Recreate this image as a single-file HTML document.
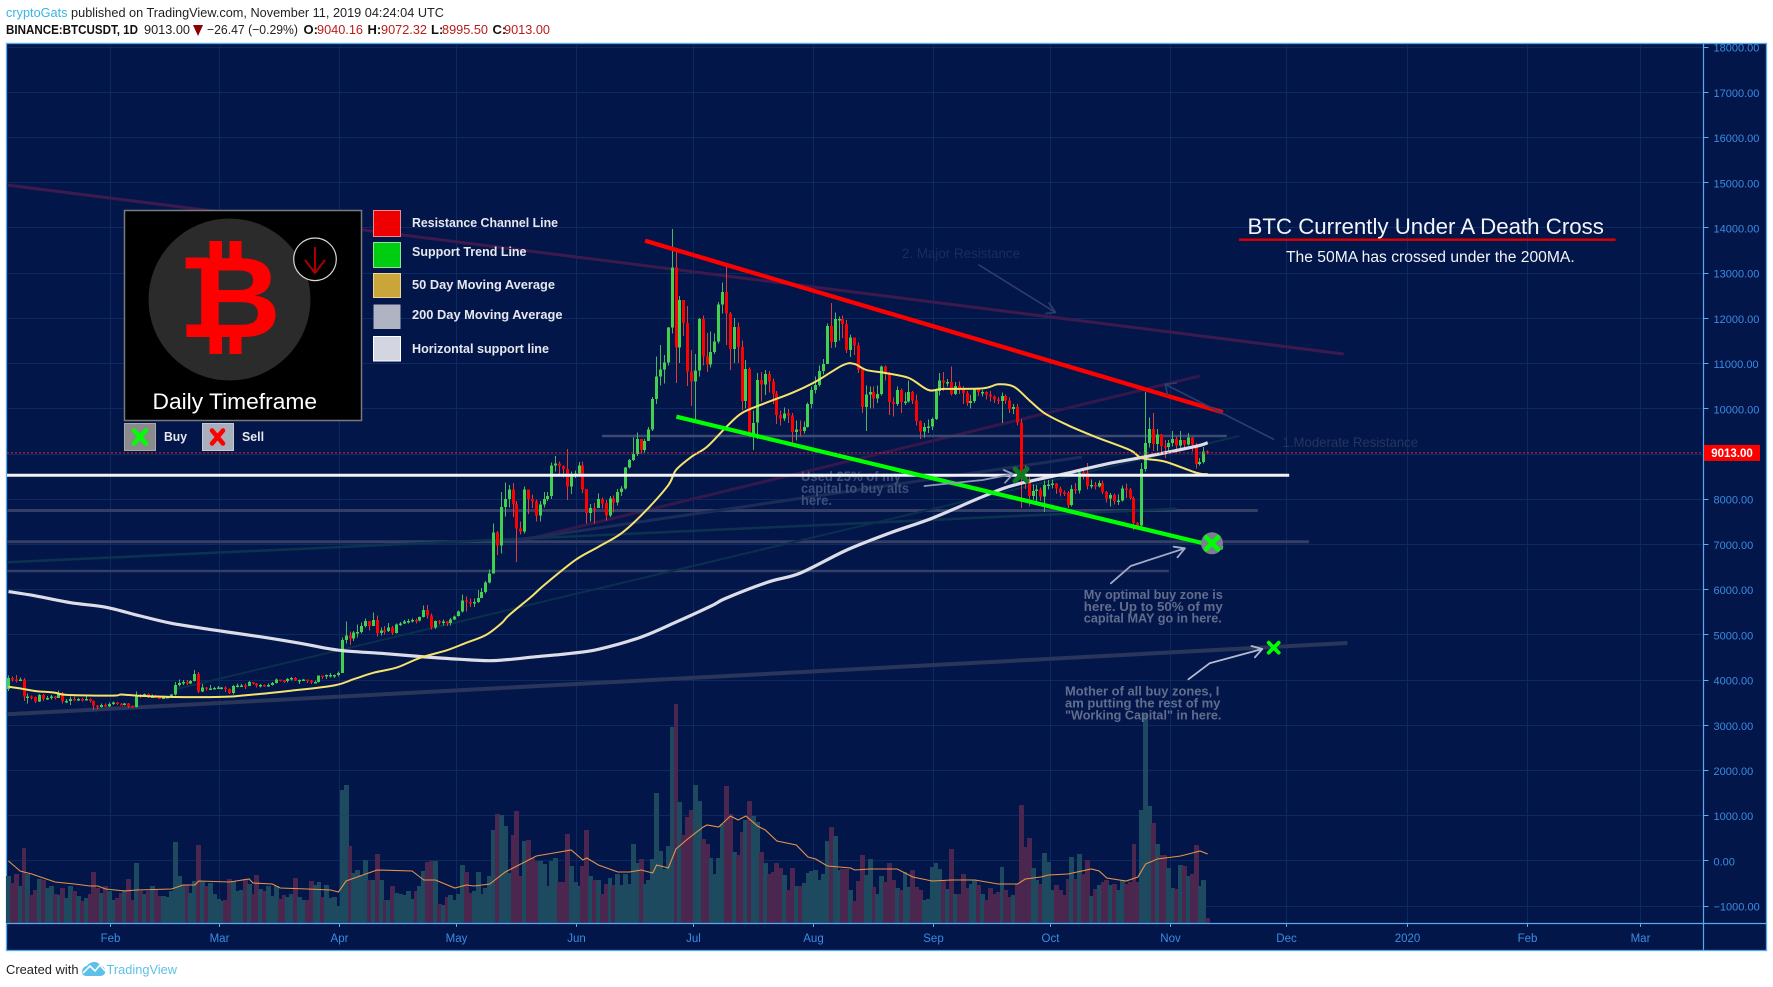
<!DOCTYPE html>
<html lang="en">
<head>
<meta charset="utf-8">
<title>BTCUSDT 1D chart</title>
<style>
html,body{margin:0;padding:0;background:#fff;width:1773px;height:987px;overflow:hidden}
svg{display:block;font-family:"Liberation Sans",sans-serif}
</style>
</head>
<body>
<svg id="chart" xmlns="http://www.w3.org/2000/svg" width="1773" height="987" viewBox="0 0 1773 987">
  <rect x="0" y="0" width="1773" height="987" fill="#ffffff"/>
  <g font-size="13">
    <text x="6" y="17" fill="#222" textLength="438" lengthAdjust="spacingAndGlyphs"><tspan fill="#3bb3e4">cryptoGats</tspan> published on TradingView.com, November 11, 2019 04:24:04 UTC</text>
    <text x="6" y="34" font-weight="700" fill="#111" textLength="132" lengthAdjust="spacingAndGlyphs">BINANCE:BTCUSDT, 1D</text>
    <text x="144" y="34" fill="#222" textLength="46" lengthAdjust="spacingAndGlyphs">9013.00</text>
    <path d="M193,25h10l-5,11z" fill="#8b0000"/>
    <text x="207" y="34" fill="#222" textLength="91" lengthAdjust="spacingAndGlyphs">−26.47 (−0.29%)</text>
    <text x="303.5" y="34" font-weight="700" fill="#111">O:</text>
    <text x="317" y="34" fill="#b71c1c" textLength="46" lengthAdjust="spacingAndGlyphs">9040.16</text>
    <text x="367.5" y="34" font-weight="700" fill="#111">H:</text>
    <text x="381" y="34" fill="#b71c1c" textLength="46" lengthAdjust="spacingAndGlyphs">9072.32</text>
    <text x="431" y="34" font-weight="700" fill="#111">L:</text>
    <text x="442" y="34" fill="#b71c1c" textLength="46" lengthAdjust="spacingAndGlyphs">8995.50</text>
    <text x="492.5" y="34" font-weight="700" fill="#111">C:</text>
    <text x="504" y="34" fill="#b71c1c" textLength="46" lengthAdjust="spacingAndGlyphs">9013.00</text>
  </g>
  <rect x="6.5" y="43.5" width="1760" height="907" fill="#031649" stroke="#55aaf2" stroke-width="1.3"/>
  <g id="grid"></g>
  <g id="volumeLayer"></g>
  <g id="dimLines"></g>
  <g id="candleLayer"></g>
  <g id="maLayer"></g>
  <g id="lastLine"></g>
  <g font-size="14">
    <text x="801" y="481" fill="#3f4f78" font-weight="700" textLength="100" lengthAdjust="spacingAndGlyphs">Used 25% of my</text>
    <text x="801" y="493" fill="#3f4f78" font-weight="700" textLength="108" lengthAdjust="spacingAndGlyphs">capital to buy alts</text>
    <text x="801" y="505" fill="#3f4f78" font-weight="700" textLength="31" lengthAdjust="spacingAndGlyphs">here.</text>
    <text x="902" y="258" fill="#1d2c5c" textLength="118" lengthAdjust="spacingAndGlyphs">2. Major Resistance</text>
    <text x="1282.5" y="447" fill="#26355f" textLength="135.6" lengthAdjust="spacingAndGlyphs">1.Moderate Resistance</text>
  </g>
  <g id="strongLines"></g>
  <g fill="none" stroke-linecap="round" stroke-linejoin="round">
    <path d="M979,265L1055.5,312.5M1049,303L1055.5,312.5L1046,313.5" stroke="#2f3d6e" stroke-width="1.6"/>
    <path d="M1273.7,439.3L1165.2,384.3M1176.5,383L1165.2,384.3L1167.7,395" stroke="#2f3d6e" stroke-width="1.6"/>
    <path d="M924.5,486L982.7,480L1013,474M1003.7,470L1013,474L1005,482.7" stroke="#8f98b8" stroke-width="1.8"/>
    <path d="M1110.9,583.3L1130.7,566L1184.9,548.3M1173.6,546.7L1184.9,548.3L1177.5,557.3" stroke="#a4abc6" stroke-width="1.8"/>
    <path d="M1188.4,679.3L1209.6,663.3L1262.3,649M1251.5,646L1262.3,649L1254.9,657.3" stroke="#b4bad0" stroke-width="1.8"/>
  </g>
  <g id="markerLayer"></g>
  <g font-size="13" font-weight="700" fill="#626d8e">
    <text x="1083.8" y="599" textLength="139" lengthAdjust="spacingAndGlyphs">My optimal buy zone is</text>
    <text x="1083.8" y="611" textLength="139" lengthAdjust="spacingAndGlyphs">here. Up to 50% of my</text>
    <text x="1083.8" y="622.5" textLength="138" lengthAdjust="spacingAndGlyphs">capital MAY go in here.</text>
    <text x="1065" y="695.5" textLength="154.4" lengthAdjust="spacingAndGlyphs">Mother of all buy zones, I</text>
    <text x="1065" y="707.5" textLength="155.4" lengthAdjust="spacingAndGlyphs">am putting the rest of my</text>
    <text x="1065" y="719.5" textLength="156.4" lengthAdjust="spacingAndGlyphs">"Working Capital" in here.</text>
  </g>
  <g>
    <rect x="124.5" y="210.5" width="237" height="210" fill="#000" stroke="#7a7a7a" stroke-width="1.5"/>
    <circle cx="229.5" cy="299.5" r="81" fill="#2b2b2b"/>
    <rect x="209.5" y="241" width="12.5" height="24" fill="#ff0000"/>
    <rect x="229.5" y="241" width="12" height="24" fill="#ff0000"/>
    <rect x="209.5" y="332" width="12.5" height="22" fill="#ff0000"/>
    <rect x="229.5" y="332" width="12" height="22" fill="#ff0000"/>
    <rect x="185.6" y="257.5" width="22" height="11" fill="#ff0000"/>
    <rect x="186.4" y="324.5" width="22" height="12.5" fill="#ff0000"/>
    <text transform="translate(193,337) scale(1.07,1)" font-size="114" font-weight="700" fill="#ff0000">B</text>
    <circle cx="315" cy="259.3" r="21.3" fill="#000" stroke="#d8d8d8" stroke-width="1.2"/>
    <path d="M315,247V273M305,260L315,273L325,260" fill="none" stroke="#a80000" stroke-width="2"/>
    <text x="152.5" y="409" font-size="22" fill="#fff" textLength="164.5" lengthAdjust="spacingAndGlyphs">Daily Timeframe</text>
  </g>
  <g font-size="13" font-weight="700" fill="#e6e8f0">
    <rect x="373.5" y="210.5" width="27" height="26" fill="#ee0000" stroke="#f08a8a"/>
    <text x="412" y="227" textLength="146" lengthAdjust="spacingAndGlyphs">Resistance Channel Line</text>
    <rect x="373.5" y="242.5" width="27" height="25" fill="#00cc11" stroke="#8fe39a"/>
    <text x="412" y="256" textLength="114.5" lengthAdjust="spacingAndGlyphs">Support Trend Line</text>
    <rect x="373.5" y="273.5" width="27" height="24" fill="#c9a53a" stroke="#ecd796"/>
    <text x="412" y="289" textLength="143" lengthAdjust="spacingAndGlyphs">50 Day Moving Average</text>
    <rect x="373.5" y="304.5" width="27" height="24.5" fill="#b0b3c2"/>
    <text x="412" y="319" textLength="150.5" lengthAdjust="spacingAndGlyphs">200 Day Moving Average</text>
    <rect x="373.5" y="336.5" width="27" height="24.5" fill="#d3d5e0" stroke="#fff"/>
    <text x="412" y="353" textLength="137" lengthAdjust="spacingAndGlyphs">Horizontal support line</text>
    <rect x="124.5" y="423.5" width="31" height="27" fill="#8a8a8a" stroke="#a8a8a8"/>
    <path d="M134,430.5L146,443.5M146,430.5L134,443.5" stroke="#00ff00" stroke-width="4.5" stroke-linecap="round"/>
    <text x="164" y="441" textLength="23" lengthAdjust="spacingAndGlyphs">Buy</text>
    <rect x="202.5" y="423.5" width="31" height="27" fill="#a9aebb" stroke="#c6cad4"/>
    <path d="M212,430.5L223,443.5M223,430.5L212,443.5" stroke="#ff0000" stroke-width="4.5" stroke-linecap="round"/>
    <text x="242" y="441" textLength="22" lengthAdjust="spacingAndGlyphs">Sell</text>
  </g>
  <g fill="#f2f4fa">
    <text x="1247.5" y="234" font-size="22" textLength="356.4" lengthAdjust="spacingAndGlyphs">BTC Currently Under A Death Cross</text>
    <rect x="1239" y="238.5" width="376.6" height="2.4" fill="#e00000"/>
    <text x="1286" y="262" font-size="15.5" textLength="288.7" lengthAdjust="spacingAndGlyphs">The 50MA has crossed under the 200MA.</text>
  </g>
  <g id="axes"></g>
  <g>
    <text x="6" y="974" font-size="13" fill="#222" textLength="72.5" lengthAdjust="spacingAndGlyphs">Created with</text>
    <path d="M82,972C82,968 85,966 87,966C89,962 97,960 100,965C104,966 106,970 105,973C104,976 101,976 98,976H87C84,976 82,975 82,972Z" fill="#5cc0ea"/>
    <path d="M83,973L90,966L95,971L100,965L105,971" fill="none" stroke="#fff" stroke-width="1.6"/>
    <text x="106.5" y="974" font-size="13" fill="#5cc0ea" textLength="70.5" lengthAdjust="spacingAndGlyphs">TradingView</text>
  </g>
</svg>
<script>
// ---- data (day index: 0 = 1 Jan 2019) ----
const firstDay = 5;
const firstOpen = 3790;
const closes = [
4040,4000,3995,4005,3630,3630,3615,3510,3660,3570,3590,3620,3590,3700,3530,3530,3575,3555,3570,3565,3565,3530,3430,3395,3440,3410,
3460,3490,3460,3455,3465,3400,3395,3660,3650,3680,3615,3625,3600,3590,3600,3615,3670,3880,3920,3950,3910,3970,4120,3740,3820,3800,3805,3815,
3825,3825,3790,3700,3860,3865,3870,3860,3945,3915,3870,3880,3865,3880,3925,4000,3975,3970,4015,4040,3980,3985,4000,3980,3935,3950,4085,4065,4100,4100,4105,
4145,4880,4975,4905,5040,5050,5190,5300,5180,5315,5025,5080,5070,5155,5030,5215,5240,5285,5290,5320,5300,5385,5540,5420,5155,5290,5270,5285,5245,5330,
5400,5500,5750,5720,5690,5715,5800,5940,6150,6350,7250,6970,7815,7990,8205,7885,7345,7270,8200,7990,7935,7630,7875,7995,8060,8735,8780,8720,8660,8270,8550,
8560,8740,8210,7680,7800,7790,7990,7900,7625,8010,7920,8150,8230,8690,8860,8990,9320,9080,9280,9530,10210,10700,10855,11010,11790,13110,11340,12400,11890,10810,
10590,10840,11980,11150,10970,11250,11475,12300,12570,12100,11310,11800,11360,10160,10870,9410,9680,10630,10530,10760,10590,10325,9850,9770,9880,9845,9480,9530,9500,9590,10090,
10400,10520,10820,10980,11825,11470,11970,11980,11860,11290,11570,11385,10860,10030,10300,10360,10220,10320,10920,10760,10140,10100,10400,10135,10150,10360,10170,9720,9490,9585,9600,
9760,10380,10620,10570,10580,10320,10490,10410,10340,10120,10160,10415,10360,10360,10310,10260,10190,10160,10270,10170,9985,10030,9685,8530,8430,8065,8175,8200,8045,8300,
8310,8340,8225,8140,8135,7860,8210,8180,8575,8565,8280,8300,8275,8350,8150,8000,8080,7950,7960,8225,8200,8020,7465,7410,8655,9230,9540,9210,9420,9165,9140,
9235,9320,9180,9295,9195,9350,9200,8770,8810,9040,9013];
const highs = [
4093,4070,4100,4050,4030,3690,3650,3630,3680,3680,3640,3660,3640,3760,3730,3570,3620,3620,3590,3590,3650,3580,3540,3440,3475,3470,
3490,3520,3505,3480,3480,3480,3425,3735,3680,3690,3690,3670,3660,3620,3650,3630,3685,3950,4000,3990,3985,3990,4210,4170,3900,3830,3880,3830,
3860,3840,3845,3805,3880,3910,3900,3915,3965,3950,3925,3900,3890,3915,3945,4025,4005,3990,4040,4060,4060,4000,4010,3995,3990,3975,4095,4095,4110,4140,4110,
4180,4930,5280,5060,5075,5220,5260,5350,5300,5485,5420,5150,5180,5250,5180,5240,5270,5320,5340,5350,5350,5400,5640,5650,5460,5310,5320,5330,5300,5360,
5420,5530,5880,5840,5790,5790,5980,6020,6180,6430,7450,7290,8150,8360,8300,8350,7950,7500,8275,8100,8090,7980,7950,8150,8150,8800,8950,8820,8730,9100,8600,
8620,8810,8820,8220,7880,7900,8120,8030,7970,8060,8070,8210,8280,8700,8880,9350,9470,9250,9320,9590,10250,11150,11400,11180,11800,13970,13480,12480,12400,12260,
11290,11200,12000,12050,11665,11700,11650,12350,12780,13150,12130,12000,11900,11500,11070,10900,9950,10780,10800,10850,10820,10660,10380,9950,10020,9990,9900,9730,9730,9710,10130,
10480,10700,10950,11090,11880,12330,12120,12030,12050,11950,11630,11550,11450,10900,10500,10480,10480,10500,10950,10950,10800,10240,10480,10440,10350,10620,10380,10300,9730,9680,9750,
9800,10440,10780,10800,10650,10920,10580,10590,10490,10380,10290,10450,10440,10400,10370,10380,10280,10250,10350,10300,10240,10090,10100,9760,8730,8480,8310,8300,8250,8400,
8410,8420,8350,8270,8180,8170,8300,8350,8660,8620,8795,8420,8370,8400,8400,8170,8130,8120,8090,8290,8340,8240,8050,7490,8790,10365,9800,9895,9540,9430,9300,
9300,9500,9375,9500,9300,9450,9370,9230,8900,9145,9072];
const lows = [
3750,3960,3930,3965,3530,3475,3560,3480,3500,3530,3550,3560,3560,3590,3470,3480,3440,3520,3530,3520,3540,3490,3330,3340,3380,3390,
3395,3440,3440,3430,3430,3375,3370,3385,3590,3625,3590,3590,3590,3565,3575,3590,3605,3650,3850,3880,3880,3905,3960,3700,3720,3755,3765,3780,
3795,3785,3730,3680,3670,3825,3845,3790,3860,3885,3830,3820,3835,3835,3870,3915,3955,3925,3940,3975,3965,3905,3970,3920,3900,3910,3940,4010,4010,4050,4030,
4070,4140,4800,4760,4850,4925,5020,5150,5090,5230,4950,4980,5000,5050,4980,5020,5180,5230,5240,5260,5240,5280,5370,5350,5110,5120,5220,5200,5180,5200,
5320,5390,5480,5510,5600,5600,5690,5810,5900,6120,6350,6750,6790,7610,7810,7600,6600,7210,7230,7660,7800,7500,7500,7800,7950,8000,8600,8530,8470,7970,8100,
8460,8530,8130,7450,7500,7450,7790,7780,7520,7600,7700,7850,8060,8200,8670,8840,8950,9000,9020,9280,9500,10100,10500,10550,10950,11650,10560,11000,11600,10490,
10050,9745,10700,10950,10800,10900,11200,11430,12100,11400,10850,11000,11000,9950,10000,9350,9080,9320,10150,10300,10350,10100,9650,9620,9720,9680,9150,9290,9380,9440,9570,
10000,10330,10480,10750,10980,11330,11350,11500,11550,11220,11130,11180,10780,9900,9500,10000,10000,10120,10280,10620,9850,9820,10050,9900,10070,10130,10100,9620,9320,9360,9450,
9520,9740,10280,10380,10480,10280,10300,10320,10090,10050,10000,10120,10270,10260,10200,10150,10120,10100,9680,10090,9900,9870,9620,7800,8220,7830,7970,7870,7950,7700,
8200,8220,8100,8050,8060,7790,7830,8100,8120,8430,8200,8220,8200,8250,8100,7920,7830,7870,7860,7940,8020,7980,7310,7330,7340,8600,9130,9050,9060,8970,8900,
9050,9150,9000,9090,9100,9180,9050,8670,8730,8780,8995];
const volumes = [
47,40,49,37,75,49,28,33,44,43,35,37,29,28,35,25,37,32,27,22,25,29,51,35,30,37,32,23,25,30,33,44,23,60,32,29,32,37,33,27,27,26,32,81,47,38,38,30,42,78,42,37,40,29,
24,22,23,44,42,32,33,44,39,29,48,34,32,37,27,37,24,28,26,29,45,26,23,23,42,38,41,26,38,25,26,
17,133,138,77,50,53,47,63,43,43,69,43,23,23,37,30,29,28,32,24,32,37,52,61,62,62,19,18,26,28,
23,29,58,51,30,32,51,29,35,47,93,109,108,97,50,88,112,47,82,83,65,62,62,59,37,62,65,41,41,89,57,
41,37,57,93,47,43,43,29,39,45,38,49,38,49,39,79,60,64,39,43,64,130,72,54,77,196,219,121,88,106,
113,138,122,84,79,65,49,65,99,137,109,71,68,91,103,122,107,101,71,60,49,51,60,55,48,33,55,37,37,40,50,
52,53,43,49,82,96,87,53,54,54,33,22,42,68,48,64,36,29,47,41,60,43,35,33,51,36,53,36,33,23,24,
56,60,54,43,34,74,29,29,49,35,39,43,38,29,23,35,29,31,56,33,26,28,39,118,76,85,55,43,39,70,
61,33,38,33,28,44,66,44,69,49,63,27,34,38,41,43,38,39,33,43,39,41,79,41,113,209,117,100,79,68,68,
55,35,34,58,57,47,49,78,37,43,5];
const ma50Days = [5,9,12,17,20,32,34,38,48,61,65,72,78,89,94,99,105,111,118,123,128,132,134,140,143,151,157,163,169,175,177,181,185,190,194,200,207,213,220,223,226,231,237,242,246,256,260,264,268,272,278,285,294,297,303,311,314];
const ma50Values = [3842,3790,3745,3710,3660,3645,3670,3645,3614,3620,3645,3700,3755,3870,4010,4150,4265,4480,4650,4815,4985,5245,5425,5855,6090,6640,6935,7240,7715,8300,8635,8930,9150,9590,9895,10115,10345,10590,10955,10980,10850,10780,10670,10405,10430,10440,10530,10480,10180,9890,9625,9370,9075,8900,8820,8575,8545];
const ma200Days = [5,12,21,30,39,47,58,70,80,90,101,111,121,130,141,150,157,168,177,186,190,201,209,221,232,243,256,264,278,288,298,311,314];
const ma200Values = [5945,5850,5700,5600,5405,5245,5095,4945,4805,4650,4580,4510,4450,4420,4505,4580,4670,4940,5270,5625,5805,6165,6355,6865,7240,7570,8045,8300,8570,8770,8930,9160,9240];
const volumeMaDays = [5,8,11,14,17,22,26,28,30,35,38,47,50,53,54,62,67,68,73,75,82,88,90,92,97,100,109,112,115,120,123,125,129,133,136,141,144,150,153,154,157,162,165,168,171,172,175,177,180,184,185,188,191,193,195,198,200,203,208,211,213,216,222,223,227,234,238,243,248,254,260,265,267,271,273,278,284,286,288,293,296,298,301,307,311,312,314];
const volumeMaValues = [62,52,49,45,41,39,37,37,34,32,33,34,38,38,42,41,44,40,39,35,34,33,31,42,49,53,52,43,43,35,38,37,39,51,57,67,69,73,63,65,58,51,51,53,50,58,55,74,84,96,98,96,107,103,107,97,93,82,78,66,64,57,55,53,54,54,46,42,43,43,39,39,44,46,48,49,54,52,45,42,46,59,64,67,71,72,69];
const priceTicks = [-1000,0,1000,2000,3000,4000,5000,6000,7000,8000,9000,10000,11000,12000,13000,14000,15000,16000,17000,18000];
const timeTickDays = [31,59,90,120,151,181,212,243,273,304,334,365,396,425];
const timeTickLabels = ["Feb","Mar","Apr","May","Jun","Jul","Aug","Sep","Oct","Nov","Dec","2020","Feb","Mar"];
// trend lines as [startDay, startPrice, endDay, endPrice]
const resistanceLine = [169,13707,317.9,9911];
const supportLine = [177.1,9814,317.9,6910];
const horizontalSupport = [4.6,8518,335,8518];
const majorResistance = [4.6,14939,349,11201];
const moderateResistance = [136,7049,311.9,10714];
const grayLevelA = [157.9,9387,318.9,9387];
const grayLevelB = [4.6,7740,326.9,7740];
const grayLevelC = [4.6,7049,340.1,7049];
const grayLevelD = [4.6,6401,304,6401];
const longSupport = [4.6,3232,350,4809];
const dimGreenA = [4.6,6594,306,7779];
const dimGreenB = [48.2,3791,322.1,9387];
const dimGrayRise = [136,7087,281.6,8923];
const usedBuyMarker = [265.9,8525];
const optimalBuyMarker = [315.1,7014];
const motherBuyMarker = [331,4705];

// ---- axis functions ----
const NS = "http://www.w3.org/2000/svg";
function xDay(d){ return 8.5 + 3.881 * (d - 5); }
function yPrice(p){ return 860.4 - 0.04521 * p; }
function yVolume(v){ return 923 - v; }
function make(tag, parent, attrs){
  const n = document.createElementNS(NS, tag);
  for (const k in attrs) n.setAttribute(k, attrs[k]);
  parent.appendChild(n);
  return n;
}
function seriesPoints(days, values, yFn){
  return days.map(function(d, i){ return xDay(d).toFixed(1) + "," + yFn(values[i]).toFixed(1); }).join(" ");
}
// smooth curve through the sampled series values
function smoothPath(days, values, yFn){
  const px = days.map(xDay);
  const py = values.map(yFn);
  let d = "M" + px[0].toFixed(1) + "," + py[0].toFixed(1);
  for (let i = 0; i < px.length - 1; i++){
    const a = Math.max(i - 1, 0), b = Math.min(i + 2, px.length - 1);
    const c1x = px[i] + (px[i + 1] - px[a]) / 6, c1y = py[i] + (py[i + 1] - py[a]) / 6;
    const c2x = px[i + 1] - (px[b] - px[i]) / 6, c2y = py[i + 1] - (py[b] - py[i]) / 6;
    d += "C" + c1x.toFixed(1) + "," + c1y.toFixed(1) + " " + c2x.toFixed(1) + "," + c2y.toFixed(1) + " " + px[i + 1].toFixed(1) + "," + py[i + 1].toFixed(1);
  }
  return d;
}
const grid = document.getElementById("grid");
const axes = document.getElementById("axes");
const volumeLayer = document.getElementById("volumeLayer");
const candleLayer = document.getElementById("candleLayer");
const maLayer = document.getElementById("maLayer");
const dimLines = document.getElementById("dimLines");
const strongLines = document.getElementById("strongLines");
const markerLayer = document.getElementById("markerLayer");
const lastLine = document.getElementById("lastLine");

// grid + axes
priceTicks.forEach(function(p){
  const y = Math.round(yPrice(p)) + 0.5;
  const g = make("line", grid, {x1:7, x2:1703, y1:y, y2:y, stroke:"#0a2a60", "stroke-width":1});
  
  
  const t = make("line", axes, {x1:1703.5, x2:1708.5, y1:y, y2:y, stroke:"#55aaf2", "stroke-width":1});
  
  
  const lab = make("text", axes, {x:1713.5, y:yPrice(p) + 5, "font-size":11, fill:"#3a8ce2"});
  
  
  lab.textContent = (p < 0 ? "−" + Math.abs(p) : p) + ".00";
});
timeTickDays.forEach(function(d, i){
  const x = Math.round(xDay(d) + 1) + 0.5;
  const g = make("line", grid, {x1:x, x2:x, y1:44, y2:923, stroke:"#0a2a60", "stroke-width":1});
  
  
  const t = make("line", axes, {x1:x, x2:x, y1:923, y2:927, stroke:"#55aaf2", "stroke-width":1});
  
  
  const lab = make("text", axes, {x:x, y:942, "font-size":11.5, fill:"#3a8ce2", "text-anchor":"middle"});
  
  
  lab.textContent = timeTickLabels[i];
});
const timeAxisLine = make("line", axes, {x1:7, x2:1766, y1:923.5, y2:923.5, stroke:"#55aaf2", "stroke-width":1.2});


const priceAxisLine = make("line", axes, {x1:1703.5, x2:1703.5, y1:44, y2:950, stroke:"#55aaf2", "stroke-width":1.2});



// volume bars (contiguous, no gaps)
volumes.forEach(function(v, i){
  const d = firstDay + i;
  const open = i ? closes[i - 1] : firstOpen;
  const up = closes[i] >= open;
  const left = Math.floor(xDay(d) - 1.94);
  const right = Math.ceil(xDay(d + 1) - 1.94);
  const bar = make("rect", volumeLayer, {x:left, y:yVolume(v), width:right - left, height:v, fill: up ? "#1e4a5f" : "#4b274f", "shape-rendering":"crispEdges"});
  
  
});
const volMa = make("polyline", volumeLayer, {points:seriesPoints(volumeMaDays, volumeMaValues, yVolume), fill:"none", stroke:"#e8924a", "stroke-width":1.1});



// trend-line helper
function drawTrend(parent, line, color, width, name){
  const n = make("line", parent, {x1:xDay(line[0]).toFixed(1), y1:yPrice(line[1]).toFixed(1), x2:xDay(line[2]).toFixed(1), y2:yPrice(line[3]).toFixed(1), stroke:color, "stroke-width":width});
  
  
  return n;
}
drawTrend(dimLines, majorResistance, "#3d1a4d", 3, "major-resistance-line");
drawTrend(dimLines, moderateResistance, "#33184c", 3, "moderate-resistance-line");
drawTrend(dimLines, grayLevelA, "#3d4a70", 2.5, "gray-level-9400");
drawTrend(dimLines, grayLevelB, "#333f66", 3, "gray-level-7700");
drawTrend(dimLines, grayLevelC, "#333f66", 3, "gray-level-7000");
drawTrend(dimLines, grayLevelD, "#333f66", 2.5, "gray-level-6400");
drawTrend(dimLines, longSupport, "#293559", 4, "long-term-support-line");
drawTrend(dimLines, dimGreenA, "#0b3350", 2.5, "dim-green-line-a");
drawTrend(dimLines, dimGreenB, "#0a2f4d", 2, "dim-green-line-b");
drawTrend(dimLines, dimGrayRise, "#1c2c59", 3, "dim-rising-line");

// candlesticks
closes.forEach(function(c, i){
  const d = firstDay + i;
  const open = i ? closes[i - 1] : firstOpen;
  const up = c >= open;
  const cx = Math.round(xDay(d) - 0.5);
  const top = yPrice(Math.max(open, c));
  const bottom = yPrice(Math.min(open, c));
  const group = make("g", candleLayer, {});
  
  
  const wick = make("rect", group, {x:cx, y:yPrice(highs[i]).toFixed(1), width:1, height:(yPrice(lows[i]) - yPrice(highs[i])).toFixed(1), fill: up ? "#4fb45f" : "#dd3c3c", "shape-rendering":"crispEdges"});
  
  
  const body = make("rect", group, {x:cx - 1, y:top.toFixed(1), width:3, height:Math.max(1.5, bottom - top).toFixed(1), fill: up ? "#42d04f" : "#ff0000", "shape-rendering":"crispEdges"});
  
  
});

// moving averages
const ma200Line = make("path", maLayer, {d:smoothPath(ma200Days, ma200Values, yPrice), fill:"none", stroke:"#dcdde8", "stroke-width":3.2, "stroke-linejoin":"round"});


const ma50Line = make("path", maLayer, {d:smoothPath(ma50Days, ma50Values, yPrice), fill:"none", stroke:"#f6e36c", "stroke-width":2, "stroke-linejoin":"round"});



// last price line + label
const lastPrice = closes[closes.length - 1];
const lastY = yPrice(lastPrice);
const priceLine = make("line", lastLine, {x1:7, x2:1703, y1:lastY, y2:lastY, stroke:"#e02430", "stroke-width":1, "stroke-dasharray":"2 2"});



// main drawn lines
drawTrend(strongLines, horizontalSupport, "#f2f3f8", 3, "horizontal-support-line");
drawTrend(strongLines, resistanceLine, "#ff0000", 4.3, "resistance-channel-line");
drawTrend(strongLines, supportLine, "#00ff00", 4.2, "support-trend-line");

// buy markers
function drawX(center, size, color, width, name){
  const x = xDay(center[0]);
  const y = yPrice(center[1]);
  const n = make("path", markerLayer, {d:"M" + (x-size) + "," + (y-size) + "L" + (x+size) + "," + (y+size) + "M" + (x+size) + "," + (y-size) + "L" + (x-size) + "," + (y+size), stroke:color, "stroke-width":width, "stroke-linecap":"round", fill:"none"});
  
  
}
const optimalDisc = make("circle", markerLayer, {cx:xDay(optimalBuyMarker[0]), cy:yPrice(optimalBuyMarker[1]), r:11, fill:"#7c7f92"});


drawX(usedBuyMarker, 6, "#0f7a23", 5, "used-buy-marker");
drawX(optimalBuyMarker, 6, "#00ff00", 4.5, "optimal-buy-marker");
drawX(motherBuyMarker, 5, "#00ff00", 3.8, "mother-buy-marker");

// last price tag
const tag = make("rect", axes, {x:1704, y:lastY - 8, width:56, height:16, fill:"#ff0000"});


const tagText = make("text", axes, {x:1732, y:lastY + 4, "font-size":11.5, "font-weight":700, fill:"#fff", "text-anchor":"middle"});


tagText.textContent = lastPrice.toFixed(2);
</script>
</body>
</html>
